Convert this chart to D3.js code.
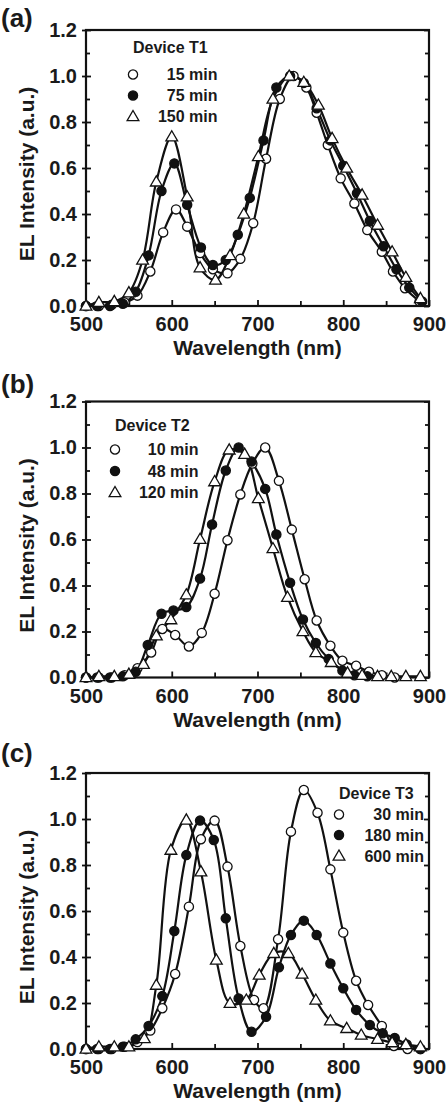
<!DOCTYPE html>
<html>
<head>
<meta charset="utf-8">
<script src="https://cdn.jsdelivr.net/npm/d3@7"></script>
<style>
  body { margin: 0; background: #fff; }
  text { font-family: "Liberation Sans", Arial, sans-serif; font-weight: bold; fill: #1a1a1a; }
</style>
</head>
<body>
<div id="chart"></div>
<script>
// axis ticks
const xMajor = [500, 600, 700, 800, 900];
const xMinor = [550, 650, 750, 850];
const yMajor = [0, 0.2, 0.4, 0.6, 0.8, 1.0, 1.2];
const yMinor = [0.1, 0.3, 0.5, 0.7, 0.9, 1.1];

// (a) Device T1
const t1Wl15 = [500, 515, 530, 545, 560, 575, 590, 605, 618, 633, 648, 665, 680, 695, 710, 726, 742, 757, 769, 782, 797, 813, 828, 845, 858, 872, 889];
const t1I15 = [0, 0, 0.005, 0.015, 0.045, 0.15, 0.32, 0.42, 0.345, 0.23, 0.16, 0.142, 0.205, 0.36, 0.64, 0.9, 1.0, 0.95, 0.84, 0.70, 0.555, 0.446, 0.33, 0.236, 0.15, 0.077, 0.02];
const t1Wl75 = [500, 513, 528, 543, 558, 573, 588, 603, 618, 634, 648, 663, 677, 691, 707, 722, 738, 754, 769, 785, 800, 816, 831, 847, 862, 877, 892];
const t1I75 = [0, 0, 0, 0.01, 0.062, 0.22, 0.50, 0.62, 0.44, 0.254, 0.178, 0.2, 0.31, 0.47, 0.72, 0.95, 1.0, 0.97, 0.86, 0.72, 0.61, 0.49, 0.37, 0.26, 0.16, 0.08, 0.02];
const t1Wl150 = [500, 515, 533, 550, 566, 582, 600, 618, 633, 651, 668, 684, 701, 718, 737, 754, 771, 787, 804, 822, 840, 857, 873, 890];
const t1I150 = [0, 0.016, 0.02, 0.058, 0.2, 0.54, 0.736, 0.475, 0.167, 0.113, 0.22, 0.40, 0.65, 0.90, 1.0, 0.973, 0.874, 0.729, 0.60, 0.483, 0.352, 0.236, 0.125, 0.033];

// (b) Device T2
const t2Wl10 = [500, 515, 530, 545, 560, 576, 589, 604, 620, 635, 650, 665, 680, 694, 709, 725, 740, 755, 769, 785, 799, 815, 830, 845, 860];
const t2I10 = [0, 0, 0, 0.01, 0.04, 0.109, 0.211, 0.185, 0.135, 0.194, 0.364, 0.597, 0.796, 0.93, 1.0, 0.855, 0.643, 0.427, 0.248, 0.138, 0.073, 0.051, 0.025, 0.01, 0];
const t2Wl48 = [500, 513, 528, 543, 558, 572, 588, 602, 617, 633, 647, 663, 678, 693, 709, 722, 738, 753, 768, 783, 799, 813, 828];
const t2I48 = [0, 0, 0, 0.005, 0.025, 0.141, 0.277, 0.291, 0.306, 0.43, 0.665, 0.90, 1.0, 0.939, 0.82, 0.622, 0.412, 0.252, 0.15, 0.08, 0.03, 0.01, 0.005];
const t2Wl120 = [500, 515, 533, 550, 567, 582, 599, 617, 633, 650, 667, 685, 701, 718, 735, 753, 768, 786, 805, 822, 840, 856, 873, 890];
const t2I120 = [0, 0.005, 0.005, 0.015, 0.058, 0.182, 0.252, 0.36, 0.601, 0.852, 0.99, 0.971, 0.779, 0.561, 0.349, 0.2, 0.109, 0.066, 0.02, 0.01, 0.005, 0.005, 0.005, 0.005];

// (c) Device T3
const t3Wl30 = [500, 515, 530, 545, 560, 575, 589, 604, 620, 634, 650, 665, 680, 696, 707, 724, 739, 754, 770, 785, 800, 815, 829, 845, 859, 875, 890];
const t3I30 = [0, 0, 0, 0.01, 0.03, 0.08, 0.177, 0.326, 0.619, 0.912, 0.993, 0.793, 0.448, 0.213, 0.177, 0.477, 0.945, 1.126, 1.027, 0.781, 0.506, 0.297, 0.191, 0.1, 0.013, 0, 0];
const t3Wl180 = [500, 513, 528, 543, 558, 573, 589, 603, 617, 633, 649, 663, 678, 693, 710, 725, 739, 754, 769, 785, 800, 815, 831, 846, 860, 874, 890];
const t3I180 = [0, 0, 0, 0.01, 0.042, 0.1, 0.23, 0.513, 0.843, 0.993, 0.909, 0.568, 0.22, 0.075, 0.14, 0.355, 0.496, 0.558, 0.496, 0.372, 0.264, 0.17, 0.104, 0.068, 0.048, 0.02, 0];
const t3Wl600 = [500, 515, 533, 550, 568, 582, 599, 617, 634, 652, 668, 687, 702, 719, 736, 752, 768, 785, 804, 821, 840, 857, 873, 890];
const t3I600 = [0, 0.01, 0.01, 0.01, 0.046, 0.278, 0.865, 0.996, 0.771, 0.387, 0.199, 0.213, 0.322, 0.416, 0.416, 0.326, 0.213, 0.123, 0.09, 0.061, 0.043, 0.028, 0.02, 0.01];

const W = 448, H = 1103;
const left = 86, plotW = 343, plotH = 276;

const zip = (wl, v) => wl.map((w, i) => ({w: w, v: v[i]}));

const panels = [
    {label: '(a)', top: 30, labelY: 27, device: 'Device T1', legX: 133, legRight: 217.5, legY: 23, legRows: [50, 71, 92],
     series: [
        {name: '15 min', sym: 'open', data: zip(t1Wl15, t1I15)},
        {name: '75 min', sym: 'filled', data: zip(t1Wl75, t1I75)},
        {name: '150 min', sym: 'tri', data: zip(t1Wl150, t1I150)}
     ]},
    {label: '(b)', top: 401.5, labelY: 393, device: 'Device T2', legX: 115, legRight: 198.5, legY: 29.5, legRows: [53.5, 75, 96.5],
     series: [
        {name: '10 min', sym: 'open', data: zip(t2Wl10, t2I10)},
        {name: '48 min', sym: 'filled', data: zip(t2Wl48, t2I48)},
        {name: '120 min', sym: 'tri', data: zip(t2Wl120, t2I120)}
     ]},
    {label: '(c)', top: 773, labelY: 762, device: 'Device T3', legX: 339, legRight: 424, legY: 26, legRows: [47, 67.5, 88.5],
     series: [
        {name: '30 min', sym: 'open', data: zip(t3Wl30, t3I30)},
        {name: '180 min', sym: 'filled', data: zip(t3Wl180, t3I180)},
        {name: '600 min', sym: 'tri', data: zip(t3Wl600, t3I600)}
     ]}
];

const svg = d3.select('#chart')
    .append('svg')
    .attr('width', W)
    .attr('height', H);

const x = d3.scaleLinear().domain([500, 900]).range([0, plotW]);
const y = d3.scaleLinear().domain([0, 1.2]).range([plotH, 0]);

const line = d3.line()
    .x(d => x(d.w))
    .y(d => y(d.v))
    .curve(d3.curveCatmullRom.alpha(0.5));

const tri = d3.symbol().type(d3.symbolTriangle).size(60);

function marker(sel, sym) {
    if (sym === 'tri') {
        sel.append('path')
            .attr('d', tri)
            .attr('transform', 'translate(0,0.8)')
            .attr('fill', '#fff')
            .attr('stroke', '#111')
            .attr('stroke-width', 1.3);
    } else {
        sel.append('circle')
            .attr('r', 4.6)
            .attr('fill', sym === 'filled' ? '#111' : '#fff')
            .attr('stroke', '#111')
            .attr('stroke-width', 1.3);
    }
}

panels.forEach(p => {
    svg.append('text')
        .attr('x', 1)
        .attr('y', p.labelY)
        .attr('font-size', 26)
        .text(p.label);

    const g = svg.append('g')
        .attr('transform', `translate(${left},${p.top})`);

    // ticks: left (labels + crossing), right, bottom
    const yAxis = g.append('g')
        .call(d3.axisLeft(y).tickValues(yMajor).tickFormat(d3.format('.1f')).tickSize(4).tickPadding(5));
    yAxis.selectAll('text').attr('font-size', 20).attr('fill', '#1a1a1a');
    g.append('g').call(d3.axisRight(y).tickValues(yMajor).tickSize(5).tickFormat(''));
    g.append('g').call(d3.axisRight(y).tickValues(yMinor).tickSize(4).tickFormat(''));
    g.append('g').attr('transform', `translate(${plotW},0)`)
        .call(d3.axisLeft(y).tickValues(yMajor).tickSize(5).tickFormat(''));
    g.append('g').attr('transform', `translate(${plotW},0)`)
        .call(d3.axisLeft(y).tickValues(yMinor).tickSize(4).tickFormat(''));

    const xAxis = g.append('g').attr('transform', `translate(0,${plotH})`)
        .call(d3.axisBottom(x).tickValues(xMajor).tickFormat(d3.format('d')).tickSize(-6).tickPadding(8));
    xAxis.selectAll('text').attr('font-size', 20).attr('fill', '#1a1a1a').attr('dy', '0.85em');
    g.append('g').attr('transform', `translate(0,${plotH})`)
        .call(d3.axisBottom(x).tickValues(xMinor).tickSize(-5).tickFormat(''));

    g.selectAll('.domain').remove();
    g.selectAll('.tick line').attr('stroke', '#111').attr('stroke-width', 1.8);

    // frame
    g.append('rect')
        .attr('width', plotW)
        .attr('height', plotH)
        .attr('fill', 'none')
        .attr('stroke', '#111')
        .attr('stroke-width', 2.2);

    // curves
    g.selectAll('path.curve')
        .data(p.series)
        .enter()
        .append('path')
        .attr('class', 'curve')
        .attr('d', s => line(s.data))
        .attr('fill', 'none')
        .attr('stroke', '#111')
        .attr('stroke-width', 2.2);

    // markers
    p.series.forEach(s => {
        g.selectAll(null)
            .data(s.data)
            .enter()
            .append('g')
            .attr('transform', d => `translate(${x(d.w)},${y(d.v)})`)
            .each(function() { marker(d3.select(this), s.sym); });
    });

    // legend
    svg.append('text')
        .attr('x', p.legX)
        .attr('y', p.top + p.legY)
        .attr('font-size', 16)
        .text(p.device);
    p.series.forEach((s, i) => {
        const ly = p.top + p.legRows[i];
        svg.append('g')
            .attr('transform', `translate(${p.legX},${ly - 5.5})`)
            .call(sel => marker(sel, s.sym));
        svg.append('text')
            .attr('x', p.legRight)
            .attr('y', ly)
            .attr('text-anchor', 'end')
            .attr('font-size', 16)
            .text(s.name);
    });

    // axis titles
    svg.append('text')
        .attr('x', left + plotW / 2)
        .attr('y', p.top + plotH + 49)
        .attr('text-anchor', 'middle')
        .attr('font-size', 21)
        .text('Wavelength (nm)');
    svg.append('text')
        .attr('transform', `translate(34,${p.top + 144}) rotate(-90)`)
        .attr('text-anchor', 'middle')
        .attr('font-size', 21)
        .text('EL Intensity (a.u.)');
});
</script>
</body>
</html>
